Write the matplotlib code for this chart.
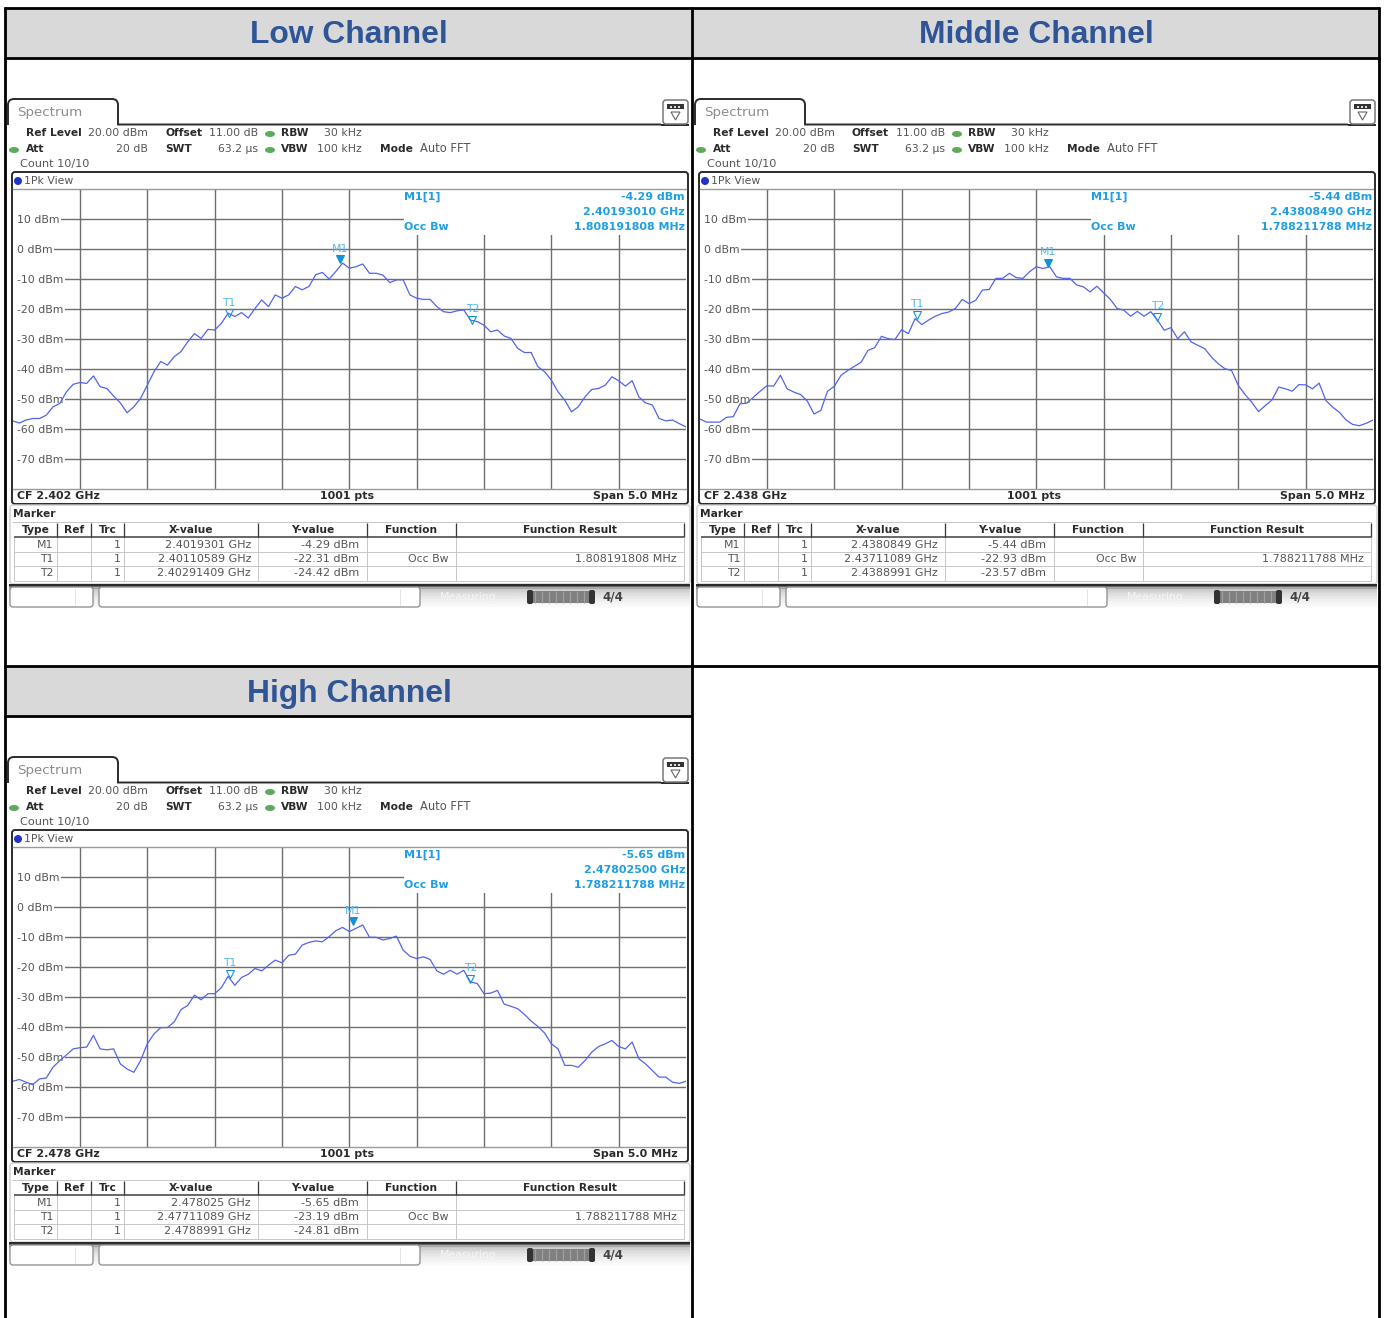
import matplotlib
matplotlib.use("Agg")
import matplotlib.pyplot as plt
from matplotlib.patches import Rectangle, FancyBboxPatch, PathPatch, Ellipse, Polygon
from matplotlib.path import Path

W, H = 1384, 1318

freq_offset_mhz = [-2.5, -2.45, -2.4, -2.35, -2.3, -2.25, -2.2, -2.15, -2.1, -2.05,
                   -2.0, -1.95, -1.9, -1.85, -1.8, -1.75, -1.7, -1.65, -1.6, -1.55,
                   -1.5, -1.45, -1.4, -1.35, -1.3, -1.25, -1.2, -1.15, -1.1, -1.05,
                   -1.0, -0.95, -0.9, -0.85, -0.8, -0.75, -0.7, -0.65, -0.6, -0.55,
                   -0.5, -0.45, -0.4, -0.35, -0.3, -0.25, -0.2, -0.15, -0.1, -0.05,
                   0.0, 0.05, 0.1, 0.15, 0.2, 0.25, 0.3, 0.35, 0.4, 0.45,
                   0.5, 0.55, 0.6, 0.65, 0.7, 0.75, 0.8, 0.85, 0.9, 0.95,
                   1.0, 1.05, 1.1, 1.15, 1.2, 1.25, 1.3, 1.35, 1.4, 1.45,
                   1.5, 1.55, 1.6, 1.65, 1.7, 1.75, 1.8, 1.85, 1.9, 1.95,
                   2.0, 2.05, 2.1, 2.15, 2.2, 2.25, 2.3, 2.35, 2.4, 2.45, 2.5]

low_dbm = [-57.3, -58, -57, -56.5, -56.5, -55.4, -52.6, -51.5, -47.6, -45.1,
           -44.5, -44.8, -42.3, -45.9, -46.5, -49, -51.3, -54.6, -52.6, -49.8,
           -45.4, -40.9, -37.5, -38.7, -35.9, -34.2, -31, -28.2, -29.8, -26.8,
           -27, -24.8, -21.4, -22.5, -21.2, -23, -19.8, -17, -19.2, -15.3,
           -16.4, -15.3, -12.5, -13.6, -12.5, -8.6, -7.8, -10, -7.5, -4.7,
           -6.4, -5.9, -5, -8.1, -8.1, -8.7, -11.2, -10.3, -10.3, -15.3,
           -16.4, -16.8, -16.8, -19.2, -20.9, -21.2, -20.6, -20.3, -23.7, -24.2,
           -25.4, -27.6, -27, -29, -29.8, -33.1, -34.5, -34.5, -39.2, -40.9,
           -43.7, -47.6, -50.4, -54.3, -52.6, -49.3, -46.8, -46.5, -45.4, -42.6,
           -43.9, -45.7, -43.9, -49.3, -51.3, -52, -56.5, -57.3, -57, -58.2, -59.3]

mid_dbm = [-56.6, -57.7, -57.7, -57.7, -56.1, -55.9, -51.6, -51.4, -49.4, -47.4,
           -45.6, -45.7, -42.1, -46.6, -47.7, -48.5, -50.7, -55, -53.8, -47.4,
           -45.8, -42.1, -40.5, -39.1, -37.7, -33.8, -32.9, -29.1, -29.9, -30.2,
           -26.9, -28.2, -23.2, -25.2, -23.7, -22.4, -21.5, -21, -19.8, -16.8,
           -18.2, -17.1, -13.7, -13.5, -9.8, -9.8, -8.1, -9.5, -9.8, -7.6,
           -5.9, -6.5, -5.9, -9.3, -9.8, -9.8, -12, -12.6, -14.3, -12.4,
           -14.6, -16.8, -19.8, -20.4, -22.4, -20.8, -22.4, -20.9, -23.7, -27.1,
           -26.2, -29.9, -27.6, -31, -32.1, -33.2, -36, -38.2, -39.9, -40.5,
           -45.5, -48.5, -51.1, -54.2, -52.2, -50.3, -46, -46.6, -47.4, -45.2,
           -45.3, -46.6, -44.7, -50.5, -52.7, -54.4, -57, -58.5, -58.9, -58.1, -57]

high_dbm = [-58.1, -57.5, -58.4, -59.2, -57.3, -57, -53.4, -51.2, -49.3, -47.3,
            -46.9, -46.7, -42.8, -47.3, -47.6, -47.3, -52.3, -54, -55.1, -51.2,
            -45.6, -42.3, -40.2, -40.2, -38.3, -34.2, -32.8, -29.4, -30.9, -28.9,
            -28.9, -26.9, -23.1, -26.1, -23.5, -22.4, -20.5, -21.3, -19.4, -17.7,
            -18.6, -16.1, -15.7, -12.7, -11.8, -11.3, -11.6, -9.9, -7.9, -6.8,
            -8.2, -7.1, -6, -10.1, -10.1, -11, -10.5, -9.7, -14.4, -16.4,
            -17.2, -16.6, -17.5, -21.3, -22.4, -21.1, -22.4, -21.1, -25, -25.5,
            -28.9, -28.7, -27.8, -32.4, -33.1, -33.9, -35.8, -38, -39.8, -42,
            -45.6, -47.3, -52.8, -52.8, -53.4, -51.2, -48.4, -46.5, -45.6, -44.5,
            -46.5, -47.3, -45, -50.6, -52.3, -54.5, -56.7, -56.7, -58.4, -58.8, -58.1]

y_ticks = [10, 0, -10, -20, -30, -40, -50, -60, -70]
y_tick_labels = ["10 dBm", "0 dBm", "-10 dBm", "-20 dBm", "-30 dBm", "-40 dBm",
                 "-50 dBm", "-60 dBm", "-70 dBm"]
x_ticks = [-2.0, -1.5, -1.0, -0.5, 0.0, 0.5, 1.0, 1.5, 2.0]

titles = ["Low Channel", "Middle Channel", "High Channel"]
center_ghz = [2.402, 2.438, 2.478]
cf_labels = ["CF 2.402 GHz", "CF 2.438 GHz", "CF 2.478 GHz"]
traces = [low_dbm, mid_dbm, high_dbm]
marker_names = ["M1", "T1", "T2"]
marker_x_ghz = [[2.4019301, 2.40110589, 2.40291409],
                [2.4380849, 2.43711089, 2.4388991],
                [2.478025, 2.47711089, 2.4788991]]
marker_x_text = [["2.4019301 GHz", "2.40110589 GHz", "2.40291409 GHz"],
                 ["2.4380849 GHz", "2.43711089 GHz", "2.4388991 GHz"],
                 ["2.478025 GHz", "2.47711089 GHz", "2.4788991 GHz"]]
marker_y_dbm = [[-4.29, -22.31, -24.42], [-5.44, -22.93, -23.57], [-5.65, -23.19, -24.81]]
peak_freq_text = ["2.40193010 GHz", "2.43808490 GHz", "2.47802500 GHz"]
occ_bw_text = ["1.808191808 MHz", "1.788211788 MHz", "1.788211788 MHz"]
panel_origins = [(0, 0), (687, 0), (0, 658)]
title_y = [34.8, 34.8, 35.6]

GRID = "#6e6e6e"
TXT = "#555555"
BOLD = "#2a2a2a"
BLUE = "#1f9fe2"
TRACE = "#5263ee"
SANS = "DejaVu Sans"
FS = 7.85
FSB = 7.65

fig = plt.figure(figsize=(W / 100, H / 100), dpi=100, facecolor="white")
bg = fig.add_axes([0, 0, 1, 1], zorder=0)
bg.set_xlim(0, W)
bg.set_ylim(H, 0)
bg.axis("off")


def put(ax, x, y, s, ha="left", color=TXT, weight="normal", size=FS, zorder=5):
    ax.text(x, y, s, ha=ha, va="center", color=color, fontweight=weight, fontsize=size,
            family=SANS, transform=bg.transData, clip_on=False, zorder=zorder)


def bold(ax, x, y, s, ha="left", color=BOLD, size=FSB):
    put(ax, x, y, s, ha=ha, color=color, weight="bold", size=size)


def hline(x0, x1, y, color, lw, z=2):
    bg.plot([x0, x1], [y, y], color=color, lw=lw * 0.72, zorder=z, solid_capstyle="butt")


def vline(x, y0, y1, color, lw, z=2):
    bg.plot([x, x], [y0, y1], color=color, lw=lw * 0.72, zorder=z, solid_capstyle="butt")


def panel(i):
    ox, oy = panel_origins[i]

    # title band
    bg.add_patch(Rectangle((6 + ox, 9 + oy), 686, 48, fc="#d9d9d9", ec="none", zorder=1))
    bg.text(349 + ox, title_y[i] + oy, titles[i], ha="center", va="center", color="#2f5597",
            fontsize=22.9, fontweight="bold", family="Liberation Sans", zorder=3)

    # spectrum tab
    verts = [(8, 125), (8, 105), (8, 99), (14, 99), (112, 99), (118, 99), (118, 105),
             (118, 124.5), (661, 124.5)]
    codes = [Path.MOVETO, Path.LINETO, Path.CURVE3, Path.CURVE3, Path.LINETO, Path.CURVE3,
             Path.CURVE3, Path.LINETO, Path.LINETO]
    verts = [(a + ox, b + oy) for a, b in verts]
    bg.add_patch(PathPatch(Path(verts, codes), fc="none", ec="#2b2b2b", lw=1.4, zorder=2))
    hline(661 + ox, 689 + ox, 124.5 + oy, "#2b2b2b", 2)
    put(bg, 17 + ox, 112.5 + oy, "Spectrum", color="#8c8c8c", size=9.6)

    # icon
    bg.add_patch(FancyBboxPatch((663 + ox, 100 + oy), 25, 24, boxstyle="round,pad=0,rounding_size=3",
                                fc="white", ec="#777777", lw=1.1, zorder=3))
    bg.add_patch(Rectangle((667 + ox, 104 + oy), 17, 5, fc="#333333", ec="none", zorder=4))
    for dx in (670, 674, 678):
        bg.add_patch(Rectangle((dx + ox, 105.5 + oy), 2, 2, fc="#dddddd", ec="none", zorder=5))
    bg.add_patch(Polygon([(671 + ox, 112 + oy), (680 + ox, 112 + oy), (675.5 + ox, 120 + oy)],
                         closed=True, fc="white", ec="#666666", lw=0.8, zorder=4))

    # settings block
    bold(bg, 26 + ox, 133 + oy, "Ref Level")
    put(bg, 148 + ox, 133 + oy, "20.00 dBm", ha="right")
    bold(bg, 165 + ox, 133 + oy, "Offset")
    put(bg, 258 + ox, 133 + oy, "11.00 dB", ha="right")
    bold(bg, 281 + ox, 133 + oy, "RBW")
    put(bg, 362 + ox, 133 + oy, "30 kHz", ha="right")
    bold(bg, 26 + ox, 149 + oy, "Att")
    put(bg, 148 + ox, 149 + oy, "20 dB", ha="right")
    bold(bg, 165 + ox, 149 + oy, "SWT")
    put(bg, 258 + ox, 149 + oy, "63.2 µs", ha="right")
    bold(bg, 281 + ox, 149 + oy, "VBW")
    put(bg, 362 + ox, 149 + oy, "100 kHz", ha="right")
    bold(bg, 380 + ox, 149 + oy, "Mode")
    put(bg, 420 + ox, 149 + oy, "Auto FFT", size=8.3)
    put(bg, 20 + ox, 164 + oy, "Count 10/10", size=8.1)
    for cx, cy in [(270, 134), (270, 150), (14, 150)]:
        bg.add_patch(Ellipse((cx + ox, cy + oy), 10, 6, fc="#5daa5d", ec="none", zorder=3))

    # plot frame
    bg.add_patch(FancyBboxPatch((12 + ox, 172 + oy), 676, 332, boxstyle="round,pad=0,rounding_size=3",
                                fc="white", ec="#2b2b2b", lw=1.4, zorder=2))
    bg.add_patch(Ellipse((18 + ox, 181 + oy), 8, 8, fc="#2233cc", ec="none", zorder=3))
    put(bg, 24 + ox, 180.5 + oy, "1Pk View")
    bold(bg, 17 + ox, 496 + oy, cf_labels[i], size=7.95)
    bold(bg, 347 + ox, 496 + oy, "1001 pts", ha="center", size=7.95)
    bold(bg, 678 + ox, 496 + oy, "Span 5.0 MHz", ha="right", size=7.95)

    # spectrum axes
    left, right, top, bottom = 12.6 + ox, 686 + ox, 189 + oy, 489 + oy
    ax = fig.add_axes([left / W, 1 - bottom / H, (right - left) / W, (bottom - top) / H], zorder=2)
    ax.set_xlim(-2.5, 2.5)
    ax.set_ylim(-80, 20)
    ax.set_axisbelow(True)
    ax.set_xticks(x_ticks)
    ax.set_xticklabels([])
    ax.set_yticks(y_ticks)
    ax.set_yticklabels(y_tick_labels)
    ax.tick_params(axis="both", length=0)
    ax.tick_params(axis="y", pad=-3.2, labelsize=FS, labelcolor=TXT)
    for lab in ax.get_yticklabels():
        lab.set_ha("left")
        lab.set_family(SANS)
        lab.set_bbox(dict(fc="white", ec="none", pad=1.0))
    ax.grid(True, color=GRID, lw=1.0)
    for side in ("left", "right"):
        ax.spines[side].set_visible(False)
    for side in ("top", "bottom"):
        ax.spines[side].set_color("#9a9a9a")
        ax.spines[side].set_linewidth(1.0)

    # strip left of the level labels, where the grid does not run
    ax.add_patch(Rectangle((12.6 + ox, 190 + oy), 3.6, 298, fc="white", ec="none",
                           transform=bg.transData, zorder=1.4))
    # blanked marker readout area
    ax.add_patch(Rectangle((404 + ox, 190 + oy), 282, 45, fc="white", ec="none",
                           transform=bg.transData, zorder=1.4))

    ax.plot(freq_offset_mhz, traces[i], color=TRACE, lw=0.9, zorder=3)

    # markers
    for name, xg, yd in zip(marker_names, marker_x_ghz[i], marker_y_dbm[i]):
        xm = (xg - center_ghz[i]) * 1000
        filled = name == "M1"
        ax.plot([xm], [yd + 0.9], marker="v", ms=5.2, mfc="#1193dc" if filled else "none",
                mec="#1193dc", mew=0.8, ls="none", zorder=4, clip_on=False)
        ax.annotate(name, (xm, yd), xytext=(0, 9.6), textcoords="offset points", ha="center",
                    va="center", color="#55b6ea", fontsize=FS, family=SANS, zorder=4)

    bold(ax, 404 + ox, 197 + oy, "M1[1]", color=BLUE, size=7.95)
    bold(ax, 685 + ox, 197 + oy, f"{marker_y_dbm[i][0]:.2f} dBm", ha="right", color=BLUE, size=7.95)
    bold(ax, 685 + ox, 212 + oy, peak_freq_text[i], ha="right", color=BLUE, size=7.95)
    bold(ax, 404 + ox, 227 + oy, "Occ Bw", color=BLUE, size=7.95)
    bold(ax, 685 + ox, 227 + oy, occ_bw_text[i], ha="right", color=BLUE, size=7.95)

    # marker table
    bg.add_patch(FancyBboxPatch((10 + ox, 505 + oy), 680, 79, boxstyle="round,pad=0,rounding_size=3",
                                fc="white", ec="#cfcfcf", lw=1.0, zorder=2))
    bold(bg, 13 + ox, 514 + oy, "Marker")
    hline(12 + ox, 685 + ox, 522 + oy, "#c8c8c8", 1, 3)
    hline(14 + ox, 684 + ox, 537 + oy, "#3a3a3a", 1.5, 4)
    for yy in (552, 566, 580.5):
        hline(14 + ox, 684 + ox, yy + oy, "#c8c8c8", 1, 3)
    cols = [14, 56.5, 91, 123.5, 258, 366.5, 455.5, 683.5]
    for k, xx in enumerate(cols):
        vline(xx + ox, 537 + oy, 580.5 + oy, "#c8c8c8", 1, 3)
        if k > 0:
            vline(xx + ox, 523 + oy, 537 + oy, "#3a3a3a", 1.3, 4)
    for xx, s in zip((36, 74, 108, 191, 313, 411, 570),
                     ("Type", "Ref", "Trc", "X-value", "Y-value", "Function", "Function Result")):
        bold(bg, xx + ox, 530 + oy, s, ha="center")
    for r, yy in enumerate((545, 559, 573)):
        put(bg, 53 + ox, yy + oy, marker_names[r], ha="right")
        put(bg, 121 + ox, yy + oy, "1", ha="right")
        put(bg, 251 + ox, yy + oy, marker_x_text[i][r], ha="right", size=8.05)
        put(bg, 359 + ox, yy + oy, f"{marker_y_dbm[i][r]:.2f} dBm", ha="right", size=8.05)
    put(bg, 449 + ox, 559 + oy, "Occ Bw", ha="right")
    put(bg, 677 + ox, 559 + oy, occ_bw_text[i], ha="right", size=8.05)

    # status bar
    shades = ["#2b2b2b", "#666666", "#a8a8a8", "#c8c8c8", "#d0d0d0", "#d8d8d8", "#dddddd", "#e2e2e2",
              "#e6e6e6", "#eaeaea", "#eeeeee", "#f1f1f1", "#f4f4f4", "#f7f7f7", "#fafafa", "#fdfdfd"]
    for k, c in enumerate(shades):
        bg.add_patch(Rectangle((9 + ox, 584 + k * 1.5 + oy), 681, 1.6, fc=c, ec="none", zorder=2))
    for x0, wd, notch in [(10, 83, 75), (99, 321, 400)]:
        bg.add_patch(FancyBboxPatch((x0 + ox, 587 + oy), wd, 20, boxstyle="round,pad=0,rounding_size=3",
                                    fc="white", ec="#8a8a8a", lw=0.9, zorder=3))
        vline(notch + ox, 589 + oy, 605 + oy, "#e2e2e2", 1, 4)
    put(bg, 440 + ox, 597 + oy, "Measuring...", color="#f6f6f6", size=FS)
    bg.add_patch(FancyBboxPatch((528 + ox, 591 + oy), 67, 12, boxstyle="round,pad=0,rounding_size=2",
                                fc="#808080", ec="none", zorder=3))
    for xx in (535, 542, 549, 556, 563, 570, 577, 584):
        vline(xx + ox, 591 + oy, 603 + oy, "#a0a0a0", 1.2, 4)
    for xx in (527, 589):
        bg.add_patch(FancyBboxPatch((xx + ox, 590 + oy), 6, 14, boxstyle="round,pad=0,rounding_size=2",
                                    fc="#333333", ec="none", zorder=4))
    put(bg, 613 + ox, 597 + oy, "4/4", ha="center", color="#444444", weight="bold", size=8.6)


for idx in range(3):
    panel(idx)

# outer table rules
for yy, x0, x1 in [(8, 4, 1380), (57.5, 4, 1380), (665.5, 4, 1380), (716, 4, 692)]:
    hline(x0, x1, yy, "black", 2.8, 8)
for xx in (5, 692, 1379):
    vline(xx, 7, H, "black", 2.8, 8)

fig.savefig("out.png", dpi=100)
